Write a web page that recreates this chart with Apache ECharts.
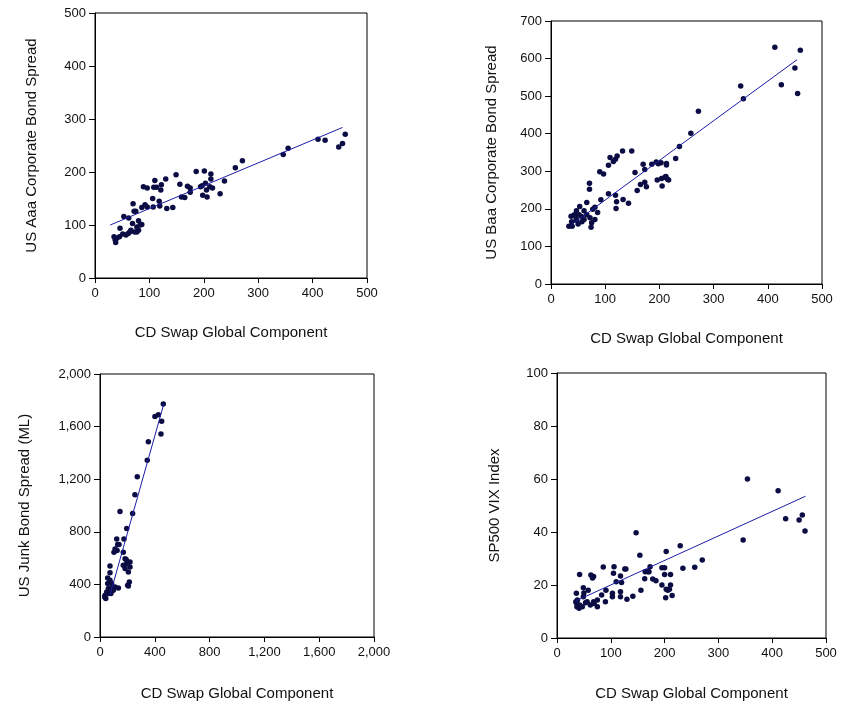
<!DOCTYPE html>
<html>
<head>
<meta charset="utf-8">
<script src="https://cdn.jsdelivr.net/npm/echarts@6/dist/echarts.min.js"></script>
<style>
  html, body { margin: 0; padding: 0; background: #fff; }
  #main { width: 849px; height: 702px; }
</style>
</head>
<body>
<div id="main"></div>
<script>
// 读图得到的数据点 [CD Swap Global Component, 纵轴值]
var aaaPoints = [
  [460,271],[455,254],[448,247],[423,260],[410,262],[355,245],[346,233],[271,221],[258,208],[238,183],
  [230,159],[213,196],[213,187],[216,170],[201,202],[186,201],[203,179],[197,174],[205,166],[198,156],
  [206,153],[211,172],[194,172],[175,170],[170,173],[175,162],[156,177],[165,152],[159,153],[149,195],
  [143,133],[132,131],[130,187],[122,176],[121,166],[118,145],[119,136],[110,184],[113,171],[108,171],
  [106,150],[107,134],[96,170],[89,172],[92,138],[86,133],[96,134],[86,101],[80,108],[77,96],
  [70,140],[72,126],[75,126],[69,103],[73,87],[80,90],[83,100],[62,113],[53,116],[61,84],
  [57,81],[51,83],[46,94],[45,78],[40,75],[37,72],[38,67],[35,78],[64,87],[66,90],[77,87]
];
var baaPoints = [
  [460,622],[455,507],[450,575],[425,530],[413,630],[355,493],[350,527],[272,460],[258,401],[237,366],
  [230,334],[213,321],[213,317],[203,323],[198,320],[194,325],[186,319],[170,319],[173,305],[155,297],
  [165,265],[173,271],[176,259],[159,249],[196,277],[205,261],[210,284],[215,279],[204,281],[217,277],
  [212,286],[149,354],[132,354],[122,341],[115,326],[119,332],[109,337],[106,316],[90,299],[97,293],
  [71,268],[71,252],[106,240],[119,236],[121,219],[120,201],[133,225],[143,215],[92,224],[81,204],
  [86,190],[66,217],[77,199],[72,176],[81,172],[74,151],[75,163],[61,195],[53,206],[47,195],
  [43,184],[37,180],[38,166],[33,154],[39,154],[47,170],[50,160],[57,179],[61,172],[66,184],
  [46,177],[52,184],[57,166]
];
var junkPoints = [
  [462,1771],[426,1690],[401,1677],[450,1640],[445,1544],[353,1484],[345,1345],[272,1219],[255,1081],[146,955],
  [238,940],[195,826],[175,746],[122,746],[129,704],[139,704],[110,670],[102,645],[170,645],[125,657],
  [183,595],[191,590],[219,570],[195,557],[170,545],[219,532],[183,520],[207,494],[214,419],[202,393],
  [207,388],[73,539],[73,489],[56,449],[73,431],[85,406],[110,380],[134,373],[97,356],[61,368],
  [49,343],[37,318],[42,292],[34,305],[61,330],[73,343],[85,368],[80,330],[56,406]
];
var vixPoints = [
  [354,60],[411,55.6],[425,45],[450,44.5],[456,46.4],[461,40.4],[346,37],[270,29.4],[256,26.7],[234,26.3],
  [229,34.8],[203,32.6],[211,24],[200,26.5],[195,26.5],[200,24],[195,20],[211,20],[206,18],[203,18.4],
  [209,18.4],[214,16],[202,15.2],[184,21.6],[178,22.3],[163,22.4],[164,25],[169,25],[173,26.9],[171,25],
  [147,39.7],[154,31.2],[156,18],[141,15.8],[130,14.6],[128,26],[126,26],[118,23.4],[120,20.9],[110,21.2],
  [106,26.9],[105,24.4],[86,26.8],[118,17.5],[118,15.6],[103,16.9],[103,15.6],[91,18],[90,13.7],[83,16.2],
  [75,14.3],[75,11.8],[68,13.7],[63,23.8],[68,23.2],[66,22.6],[58,18],[49,19],[50,17],[42,24],
  [36,16.9],[35,13.7],[37,11.8],[41,11.2],[47,11.8],[56,13.7],[62,12.5],[69,13],[53,13.3],[38,14.3],
  [36,13.3],[42,12.5],[49,15.6]
];
// 回归线端点
var aaaFit = [[28,100],[455,284]];
var baaFit = [[38,158],[454,597]];
var junkFit = [[73,320],[465,1770]];
var vixFit = [[35,14],[462,53.5]];

var xName = 'CD Swap Global Component';
var yNames = ['US Aaa Corporate Bond Spread', 'US Baa Corporate Bond Spread', 'US Junk Bond Spread (ML)', 'SP500 VIX Index'];
var xRanges = [[0,500,100],[0,500,100],[0,2000,400],[0,500,100]];
var yRanges = [[0,500,100],[0,700,100],[0,2000,400],[0,100,20]];
var allPoints = [aaaPoints, baaPoints, junkPoints, vixPoints];
var allFits = [aaaFit, baaFit, junkFit, vixFit];

var grids = [
  {left: 95, top: 13, width: 272, height: 265},
  {left: 551, top: 21, width: 271, height: 263},
  {left: 100, top: 374, width: 274, height: 265},
  {left: 557, top: 373, width: 269, height: 265}
];
var yGaps = [56, 52, 68, 55];
var xGaps = [47, 47, 49, 48];

var FONT = 'Liberation Sans, Arial, sans-serif';
var DOT = '#0c0c44';
var LINE = '#1c1ca6';

function fmt(v) {
  return v.toLocaleString('en-US');
}

$init();

function $init() {
  var myChart = echarts.init(document.getElementById('main'));
  var xAxes = [], yAxes = [], series = [];
  for (var i = 0; i < 4; i++) {
    xAxes.push({
      type: 'value', gridIndex: i,
      min: xRanges[i][0], max: xRanges[i][1], interval: xRanges[i][2],
      name: xName, nameLocation: 'middle', nameGap: xGaps[i],
      nameTextStyle: {color: '#111', fontSize: 15, fontFamily: FONT},
      axisLine: {show: true, lineStyle: {color: '#000', width: 1}},
      axisTick: {show: true, length: 5, lineStyle: {color: '#000'}},
      axisLabel: {color: '#111', fontSize: 13, fontFamily: FONT, margin: 9, formatter: fmt},
      splitLine: {show: false}
    });
    yAxes.push({
      type: 'value', gridIndex: i,
      min: yRanges[i][0], max: yRanges[i][1], interval: yRanges[i][2],
      name: yNames[i], nameLocation: 'middle', nameGap: yGaps[i], nameRotate: 90,
      nameTextStyle: {color: '#111', fontSize: 15, fontFamily: FONT},
      axisLine: {show: true, lineStyle: {color: '#000', width: 1}},
      axisTick: {show: true, length: 6, lineStyle: {color: '#000'}},
      axisLabel: {color: '#111', fontSize: 13, fontFamily: FONT, margin: 9, formatter: fmt},
      splitLine: {show: false}
    });
    series.push({
      type: 'scatter', xAxisIndex: i, yAxisIndex: i,
      data: allPoints[i], symbolSize: 5.5,
      itemStyle: {color: DOT, opacity: 1},
      silent: true
    });
    series.push({
      type: 'line', xAxisIndex: i, yAxisIndex: i,
      data: allFits[i], symbol: 'none',
      lineStyle: {color: LINE, width: 1},
      silent: true, z: 3
    });
  }
  myChart.setOption({
    animation: false,
    grid: grids.map(function (g) {
      return Object.assign({show: true, borderColor: '#000', borderWidth: 1, backgroundColor: 'transparent'}, g);
    }),
    xAxis: xAxes,
    yAxis: yAxes,
    series: series
  });
}
</script>
</body>
</html>
